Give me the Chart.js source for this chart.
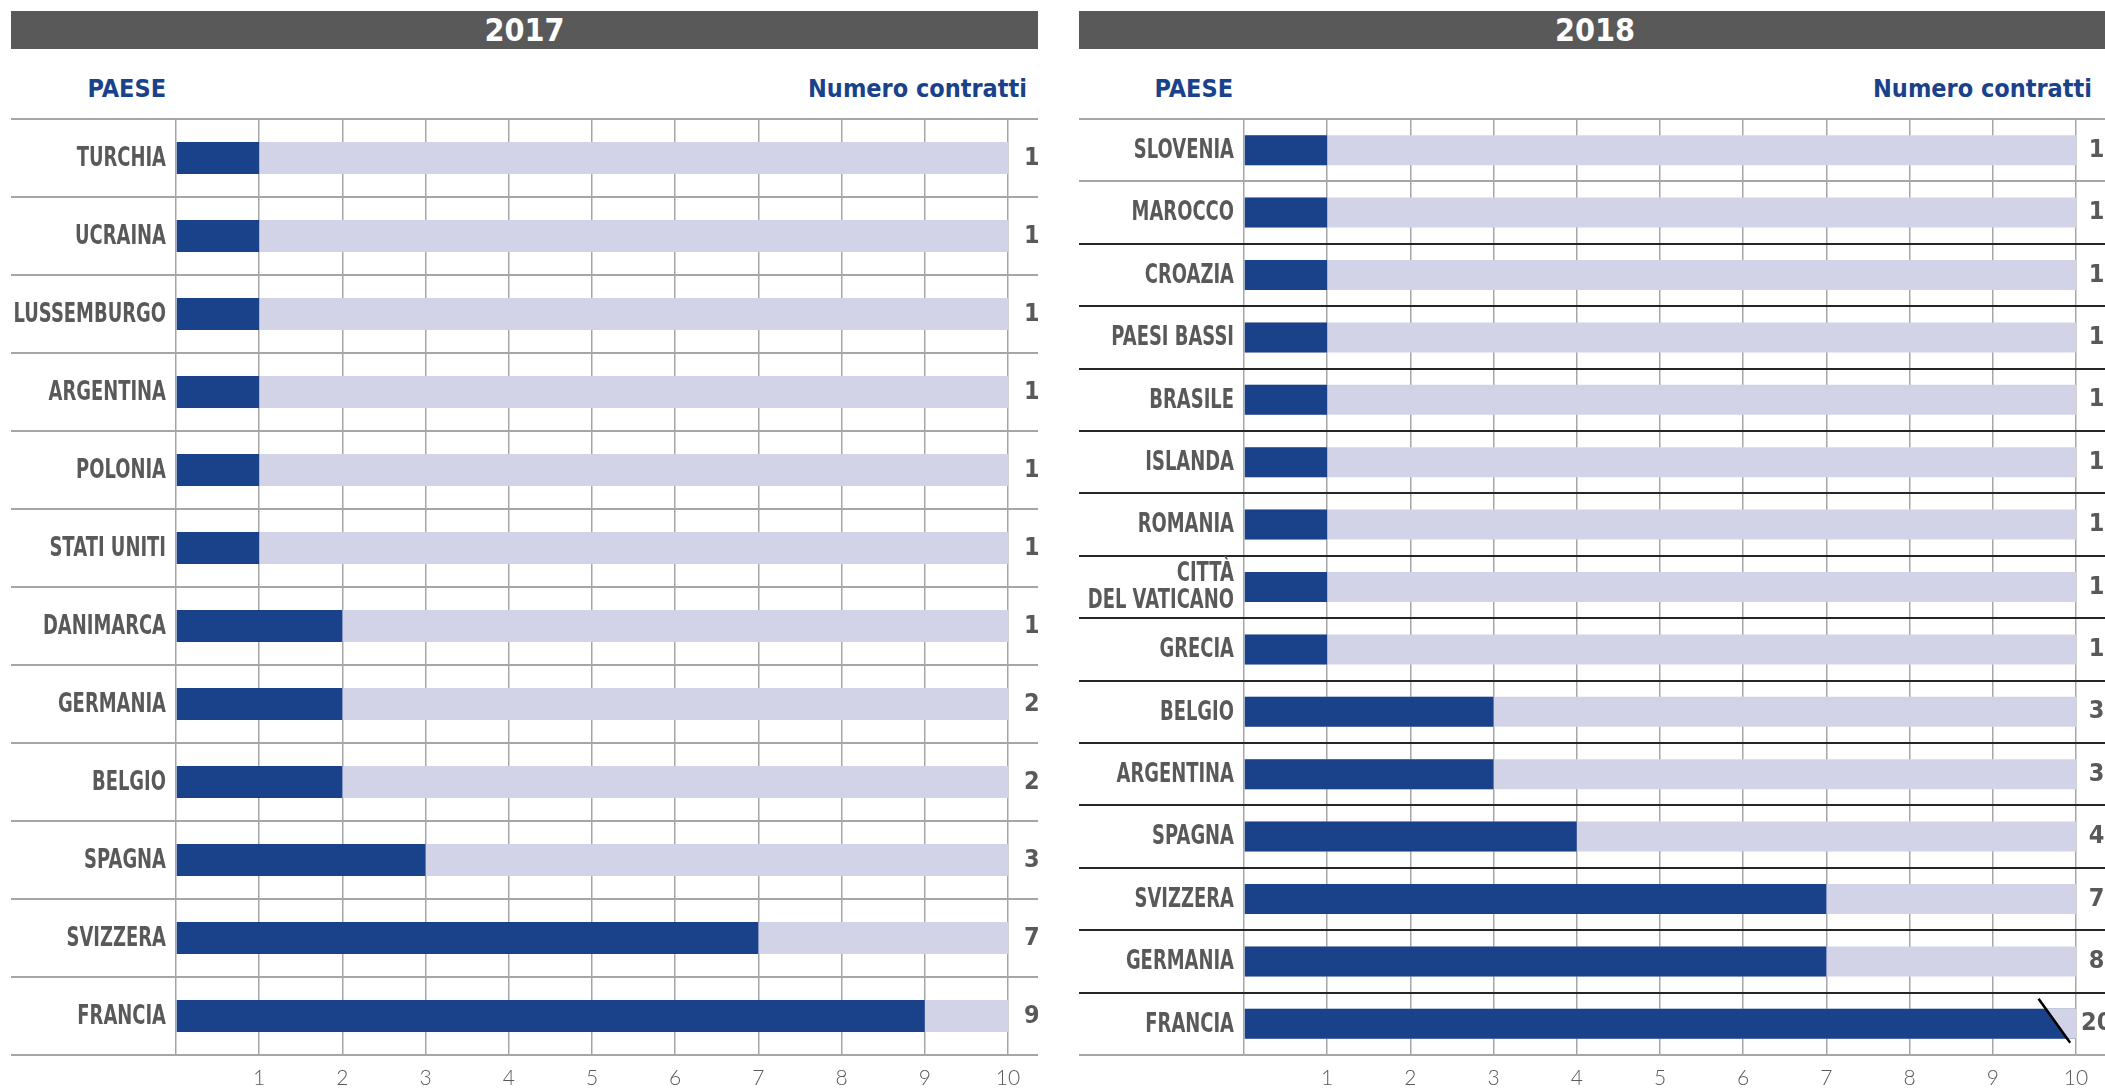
<!DOCTYPE html>
<html>
<head>
<meta charset="utf-8">
<script src="https://cdn.jsdelivr.net/npm/chart.js@4.4.1/dist/chart.umd.min.js"></script>
<style>
  body { margin: 0; width: 2105px; height: 1088px; overflow: hidden; background: #fff; position: relative; }
  .testata { position: absolute; top: 11px; height: 38px; background: #595959; color: #fff;
    font: bold 32px "DejaVu Sans Condensed", sans-serif; text-align: center; line-height: 38px; }
  .intest { position: absolute; top: 74px; color: #1a428a; line-height: 28px;
    font: bold 25px "DejaVu Sans Condensed", sans-serif; }
  canvas { position: absolute; top: 100px; }
</style>
</head>
<body>
<div class="testata" style="left:11px;width:1027px">2017</div>
<div class="testata" style="left:1079px;width:1032px">2018</div>
<div class="intest" style="right:calc(2105px - 166px)">PAESE</div>
<div class="intest" style="right:calc(2105px - 1027px)">Numero contratti</div>
<div class="intest" style="right:calc(2105px - 1233px)">PAESE</div>
<div class="intest" style="right:calc(2105px - 2092px)">Numero contratti</div>
<canvas id="c2017" width="1027" height="988" style="left:11px"></canvas>
<canvas id="c2018" width="1060" height="988" style="left:1079px"></canvas>
<script>
const paesi2017 = ['TURCHIA', 'UCRAINA', 'LUSSEMBURGO', 'ARGENTINA', 'POLONIA', 'STATI UNITI',
                   'DANIMARCA', 'GERMANIA', 'BELGIO', 'SPAGNA', 'SVIZZERA', 'FRANCIA'];
const barre2017 = [1, 1, 1, 1, 1, 1, 2, 2, 2, 3, 7, 9];
const etichette2017 = ['1', '1', '1', '1', '1', '1', '1', '2', '2', '3', '7', '9'];
const fondo2017 = [10, 10, 10, 10, 10, 10, 10, 10, 10, 10, 10, 10];

const paesi2018 = ['SLOVENIA', 'MAROCCO', 'CROAZIA', 'PAESI BASSI', 'BRASILE', 'ISLANDA', 'ROMANIA',
                   ['CITTÀ', 'DEL VATICANO'], 'GRECIA', 'BELGIO', 'ARGENTINA', 'SPAGNA', 'SVIZZERA',
                   'GERMANIA', 'FRANCIA'];
const barre2018 = [1, 1, 1, 1, 1, 1, 1, 1, 1, 3, 3, 4, 7, 7, 20];
const etichette2018 = ['1', '1', '1', '1', '1', '1', '1', '1', '1', '3', '3', '4', '7', '8', '20'];
const fondo2018 = [10, 10, 10, 10, 10, 10, 10, 10, 10, 10, 10, 10, 10, 10, 10];

const asseMax = 10;

const BLU = '#1a428a';
const LILLA = '#d3d3e8';
const GRIGIO = '#595959';

// horizontal separators between the rows, across the whole panel
const righe = {
  id: 'righe',
  beforeDatasetsDraw(chart, args, opts) {
    const ctx = chart.ctx;
    const y = chart.scales.y;
    const n = chart.data.labels.length;
    ctx.save();
    ctx.lineWidth = 2;
    for (let i = 0; i <= n; i++) {
      const py = Math.round(y.getPixelForValue(i - 0.5));
      ctx.strokeStyle = (i === n || i < opts.grigie) ? '#a6a6a6' : '#262626';
      ctx.beginPath();
      ctx.moveTo(0, py);
      ctx.lineTo(chart.width, py);
      ctx.stroke();
    }
    ctx.restore();
  }
};

// country names, narrowed like the original condensed font
const nomi = {
  id: 'nomi',
  afterDraw(chart) {
    const ctx = chart.ctx;
    const y = chart.scales.y;
    ctx.save();
    ctx.fillStyle = GRIGIO;
    ctx.font = 'bold 26px "DejaVu Sans", sans-serif';
    ctx.textAlign = 'right';
    ctx.textBaseline = 'middle';
    chart.data.labels.forEach((lab, i) => {
      const righeTesto = Array.isArray(lab) ? lab : [lab];
      const py = y.getPixelForValue(i);
      righeTesto.forEach((t, k) => {
        ctx.save();
        ctx.translate(y.right - 10, py + (k - (righeTesto.length - 1) / 2) * 27);
        ctx.scale(0.69, 1);
        ctx.fillText(t, 0, 1);
        ctx.restore();
      });
    });
    ctx.restore();
  }
};

// broken bar when value is beyond the axis
const rottura = {
  id: 'rottura',
  afterDatasetsDraw(chart) {
    const ctx = chart.ctx;
    const x = chart.scales.x;
    const meta = chart.getDatasetMeta(0);
    chart.data.datasets[0].data.forEach((v, i) => {
      if (v <= x.max) return;
      const bar = meta.data[i];
      const top = bar.y - bar.height / 2, bottom = bar.y + bar.height / 2;
      const y1 = top - 10, y2 = bottom + 4;
      const x1 = x.getPixelForValue(9.55), x2 = x.getPixelForValue(9.93);
      const at = yy => x1 + (x2 - x1) * (yy - y1) / (y2 - y1);
      const right = x.getPixelForValue(x.max);
      ctx.save();
      ctx.fillStyle = LILLA;
      ctx.beginPath();
      ctx.moveTo(at(top), top);
      ctx.lineTo(right, top);
      ctx.lineTo(right, bottom);
      ctx.lineTo(at(bottom), bottom);
      ctx.closePath();
      ctx.fill();
      ctx.strokeStyle = '#000';
      ctx.lineWidth = 2.5;
      ctx.beginPath();
      ctx.moveTo(x1, y1);
      ctx.lineTo(x2, y2);
      ctx.stroke();
      ctx.restore();
    });
  }
};

const senzaPadding = s => { s.paddingTop = 0; s.paddingBottom = 0; s.paddingLeft = 0; s.paddingRight = 0; };

function grafico(id, paesi, barre, fondo, etichette, spessore, grigie, padDestra, largDestra) {
  return new Chart(document.getElementById(id), {
    type: 'bar',
    data: {
      labels: paesi,
      datasets: [
        { data: barre, backgroundColor: BLU, barPercentage: 1, categoryPercentage: spessore, grouped: false },
        { data: fondo, backgroundColor: LILLA, barPercentage: 1, categoryPercentage: spessore, grouped: false }
      ]
    },
    options: {
      indexAxis: 'y',
      responsive: false,
      animation: false,
      layout: { padding: { top: 19, bottom: 0, left: 0, right: 0 } },
      plugins: { legend: { display: false }, tooltip: { enabled: false }, righe: { grigie: grigie } },
      scales: {
        x: {
          min: 0, max: asseMax,
          border: { display: false },
          grid: { color: '#a6a6a6', lineWidth: 1.5, drawTicks: false },
          ticks: {
            stepSize: 1, padding: 11, color: GRIGIO,
            font: { family: 'Lato, "Liberation Sans", sans-serif', size: 21, weight: 300 },
            callback: v => v === 0 ? '' : v
          },
          afterFit: s => { senzaPadding(s); s.height = 33; }
        },
        y: {
          border: { display: false },
          grid: { display: false, drawTicks: false },
          ticks: { display: false },
          afterFit: s => { senzaPadding(s); s.width = 165; }
        },
        y2: {
          type: 'category', position: 'right', labels: etichette,
          border: { display: false },
          grid: { display: false, drawTicks: false },
          ticks: {
            padding: padDestra, color: GRIGIO, crossAlign: 'center', autoSkip: false,
            font: { family: '"DejaVu Sans Condensed", sans-serif', size: 25, weight: 'bold' }
          },
          afterFit: s => { senzaPadding(s); s.width = largDestra; }
        }
      }
    },
    plugins: [righe, rottura, nomi]
  });
}

grafico('c2017', paesi2017, barre2017, fondo2017, etichette2017, 0.41, 99, 16, 30);
grafico('c2018', paesi2018, barre2018, fondo2018, etichette2018, 0.48, 2, 5, 63);
</script>
</body>
</html>
